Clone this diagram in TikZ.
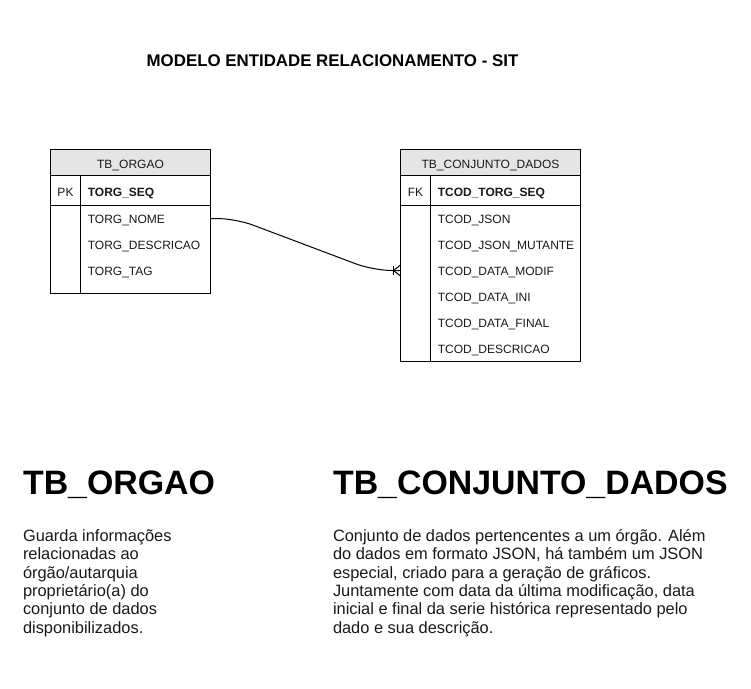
\documentclass[tikz,border=0pt]{standalone}
\usepackage{fontspec}
\setmainfont{Liberation Sans}
\usetikzlibrary{calc}
\begin{document}
\begin{tikzpicture}[x=0.75pt,y=-0.75pt,line width=0.75pt,
  tblbox/.style={draw=black,fill=white,inner sep=0pt,outer sep=0pt,anchor=north west},
  hdrfill/.style={draw=black,fill=gray!20},
  fld/.style={inner sep=0pt,anchor=base west,text=black!90,font=\fontsize{9}{10.8}\selectfont},
  keyfld/.style={fld,font=\fontsize{9}{10.8}\selectfont\bfseries},
  keylbl/.style={inner sep=0pt,anchor=base,text=black!90,font=\fontsize{9}{10.8}\selectfont},
  hdrlbl/.style={inner sep=0pt,anchor=base,text=black!90,font=\fontsize{9}{10.8}\selectfont},
  bigtitle/.style={inner sep=0pt,anchor=base west,font=\fontsize{25.4}{30}\selectfont\bfseries},
  desc/.style={inner sep=0pt,anchor=north west,align=left,text=black!90,font=\fontsize{12.3}{13.75}\selectfont},
  rel/.style={draw=black,line width=0.75pt}]
\useasboundingbox (0,0) rectangle (751,689);

% title
\node[inner sep=0pt,anchor=base,font=\fontsize{12.65}{15}\selectfont\bfseries] (title) at (332.5,66.5) {MODELO ENTIDADE RELACIONAMENTO - SIT};

% ---- TB_ORGAO table ----
\node[tblbox,minimum width=120pt,minimum height=108pt] (orgao) at (50.5,149.5) {};
\draw[hdrfill] (50.5,149.5) rectangle (210.5,175.5);
\draw (50.5,205.5) -- (210.5,205.5);
\draw (80.5,175.5) -- (80.5,293.5);
\node[hdrlbl] (orgaohdr) at (130.5,168) {TB\_ORGAO};
\node[keylbl] (pk) at (65.5,196) {PK};
\node[keyfld] (orgseq) at (87.3,196) {TORG\_SEQ};
\node[fld] (orgnome) at (87.3,223.5) {TORG\_NOME};
\node[fld] (orgdesc) at (87.3,249.5) {TORG\_DESCRICAO};
\node[fld] (orgtag) at (87.3,275.5) {TORG\_TAG};

% ---- TB_CONJUNTO_DADOS table ----
\node[tblbox,minimum width=135pt,minimum height=159pt] (conj) at (400.5,149.5) {};
\draw[hdrfill] (400.5,149.5) rectangle (580.5,175.5);
\draw (400.5,205.5) -- (580.5,205.5);
\draw (430.5,175.5) -- (430.5,361.5);
\node[hdrlbl] (conjhdr) at (490.5,168) {TB\_CONJUNTO\_DADOS};
\node[keylbl] (fk) at (415.5,196) {FK};
\node[keyfld] (codseq) at (437.3,196) {TCOD\_TORG\_SEQ};
\node[fld] (codjson) at (437.3,223.5) {TCOD\_JSON};
\node[fld] (codmut) at (437.3,249.5) {TCOD\_JSON\_MUTANTE};
\node[fld] (codmodif) at (437.3,275.5) {TCOD\_DATA\_MODIF};
\node[fld] (codini) at (437.3,301.5) {TCOD\_DATA\_INI};
\node[fld] (codfinal) at (437.3,327.5) {TCOD\_DATA\_FINAL};
\node[fld] (coddesc) at (437.3,353.5) {TCOD\_DESCRICAO};

% ---- relationship ----
\coordinate (relA) at (orgao.east |- 0,218.5);
\coordinate (relB) at (conj.west |- 0,270.5);
\draw[rel,rounded corners=14pt] (relA) -- ++(25,0) -- ($(relB)+(-27,0)$) -- (relB);
\draw[rel] ($(relB)+(-7.5,-4.5)$) -- ($(relB)+(-7.5,4.5)$);
\draw[rel] ($(relB)+(0,-5.5)$) -- ($(relB)+(-7,0)$) -- ($(relB)+(0,5.5)$);

% ---- descriptions ----
\node[bigtitle] (h1) at (22.6,494) {TB\_ORGAO};
\node[bigtitle] (h2) at (332.6,494) {TB\_CONJUNTO\_DADOS};
\node[desc] (d1) at (22.5,529) {Guarda informações\\relacionadas ao\\órgão/autarquia\\proprietário(a) do\\conjunto de dados\\disponibilizados.};
\node[desc] (d2) at (332.5,529) {Conjunto de dados pertencentes a um órgão. Além\\do dados em formato JSON, há também um JSON\\especial, criado para a geração de gráficos.\\Juntamente com data da última modificação, data\\inicial e final da serie histórica representado pelo\\dado e sua descrição.};
\end{tikzpicture}
\end{document}
